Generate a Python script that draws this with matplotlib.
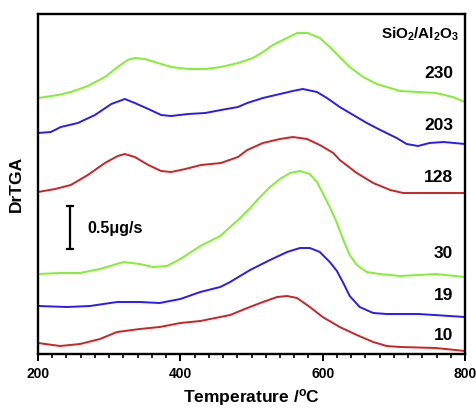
"""
DrTGA curves for different SiO2/Al2O3 ratios
"""

import matplotlib
matplotlib.use("Agg")
import matplotlib.pyplot as plt

plt.rcParams['font.family'] = ['Liberation Sans', 'DejaVu Sans']
plt.rcParams['font.weight'] = 'bold'
plt.rcParams['mathtext.fontset'] = 'custom'
plt.rcParams['mathtext.rm'] = 'Liberation Sans:bold'
plt.rcParams['mathtext.bf'] = 'Liberation Sans:bold'
plt.rcParams['mathtext.it'] = 'Liberation Sans:bold'
plt.rcParams['mathtext.default'] = 'bf'

# 数据 (温度 / 相对信号, 已含偏移)
t_230 = [200, 228, 246, 270, 294, 312, 326, 336, 350, 364, 387, 411, 435, 457, 481, 502, 516, 530, 544, 564,
         579, 596, 610, 624, 638, 657, 676, 695, 709, 735, 759, 783, 800]
y_230 = [256, 259, 262, 268, 277, 287, 294, 296, 295, 292, 287, 285, 285, 287, 291, 296, 302, 309, 314, 321,
         321, 316, 307, 297, 287, 277, 270, 266, 263, 262, 261, 257, 252]

t_203 = [200, 218, 232, 256, 280, 303, 322, 336, 355, 373, 387, 411, 435, 457, 481, 494, 516, 540, 558, 572,
         592, 606, 624, 643, 662, 681, 704, 718, 734, 750, 770, 800]
y_203 = [221, 222, 227, 231, 239, 250, 255, 251, 245, 239, 238, 240, 241, 244, 247, 251, 256, 260, 263, 265,
         262, 256, 247, 239, 231, 224, 216, 210, 208, 211, 212, 210]

t_128 = [200, 224, 246, 270, 294, 312, 322, 336, 355, 373, 387, 407, 429, 457, 481, 494, 516, 540, 558, 578,
         596, 615, 624, 648, 671, 695, 713, 760, 800]
y_128 = [162, 165, 169, 179, 191, 198, 200, 197, 189, 183, 182, 185, 189, 191, 197, 204, 211, 215, 217, 215,
         209, 201, 194, 181, 171, 164, 161, 161, 161]

t_30 = [200, 231, 259, 287, 320, 343, 362, 381, 400, 428, 456, 470, 484, 498, 512, 526, 540, 554, 568, 582,
        592, 600, 610, 620, 629, 638, 648, 662, 680, 709, 759, 800]
y_30 = [80, 81, 81, 85, 92, 90, 87, 88, 95, 108, 118, 127, 136, 146, 157, 167, 175, 181, 183, 180,
        172, 161, 147, 131, 114, 99, 89, 82, 80, 78, 80, 77]

t_19 = [200, 241, 273, 311, 343, 371, 400, 428, 456, 470, 498, 526, 550, 568, 582, 596, 610, 620, 629, 638,
        652, 671, 690, 735, 800]
y_19 = [48, 47, 48, 52, 52, 51, 55, 62, 67, 72, 84, 94, 102, 106, 106, 102, 92, 83, 71, 58,
        47, 41, 40, 40, 37]

t_10 = [200, 231, 259, 287, 311, 343, 371, 400, 428, 456, 470, 494, 516, 536, 550, 564, 582, 600, 624, 648,
        671, 690, 709, 759, 800]
y_10 = [11, 8, 10, 15, 22, 25, 27, 31, 33, 37, 39, 46, 52, 57, 58, 56, 47, 37, 27, 19,
        12, 8, 7, 6, 3]

series = [
    (t_230, y_230, '#80f030', '230', 281),
    (t_203, y_203, '#2a1cf0', '203', 228),
    (t_128, y_128, '#cc2424', '128', 177),
    (t_30, y_30, '#80f030', '30', 100),
    (t_19, y_19, '#2a1cf0', '19', 59),
    (t_10, y_10, '#cc2424', '10', 18),
]


def main():
    fig = plt.figure(figsize=(4.76, 4.08), dpi=100)
    ax = fig.add_axes([38 / 476, 54 / 408, 427 / 476, 340 / 408])

    for t, y, c, lab, ly in series:
        ax.plot(t, y, color=c, lw=1.4, solid_joinstyle='round')
        ax.text(783, ly, lab, ha='right', va='center', fontsize=12.5, fontweight='bold')

    ax.text(792, 320, 'SiO$_2$/Al$_2$O$_3$', ha='right', va='center', fontsize=11, fontweight='bold')

    # 比例尺
    ax.errorbar([245], [126.5], yerr=[[21.5], [21.5]], color='black', lw=1.6, capsize=3, capthick=1.6)
    ax.text(270, 126, '0.5\u03bcg/s', ha='left', va='center', fontsize=11.5, fontweight='bold')

    ax.set_xlim(200, 800)
    ax.set_ylim(0, 340)
    ax.set_xticks([200, 400, 600, 800])
    ax.set_xticks(range(200, 801, 20), minor=True)
    ax.set_yticks([])
    ax.tick_params(axis='x', which='major', length=5, width=1.4, direction='out', labelsize=10, pad=4)
    ax.tick_params(axis='x', which='minor', length=3, width=1.2, direction='out')
    for lbl in ax.get_xticklabels():
        lbl.set_fontweight('bold')
    for s in ax.spines.values():
        s.set_linewidth(1.7)

    ax.set_xlabel('Temperature /$^o$C', fontsize=12.5, fontweight='bold', labelpad=5)
    ax.set_ylabel('DrTGA', fontsize=12.5, fontweight='bold', labelpad=10)

    plt.savefig('out.png', dpi=100)
    plt.close(fig)


if __name__ == "__main__":
    main()
